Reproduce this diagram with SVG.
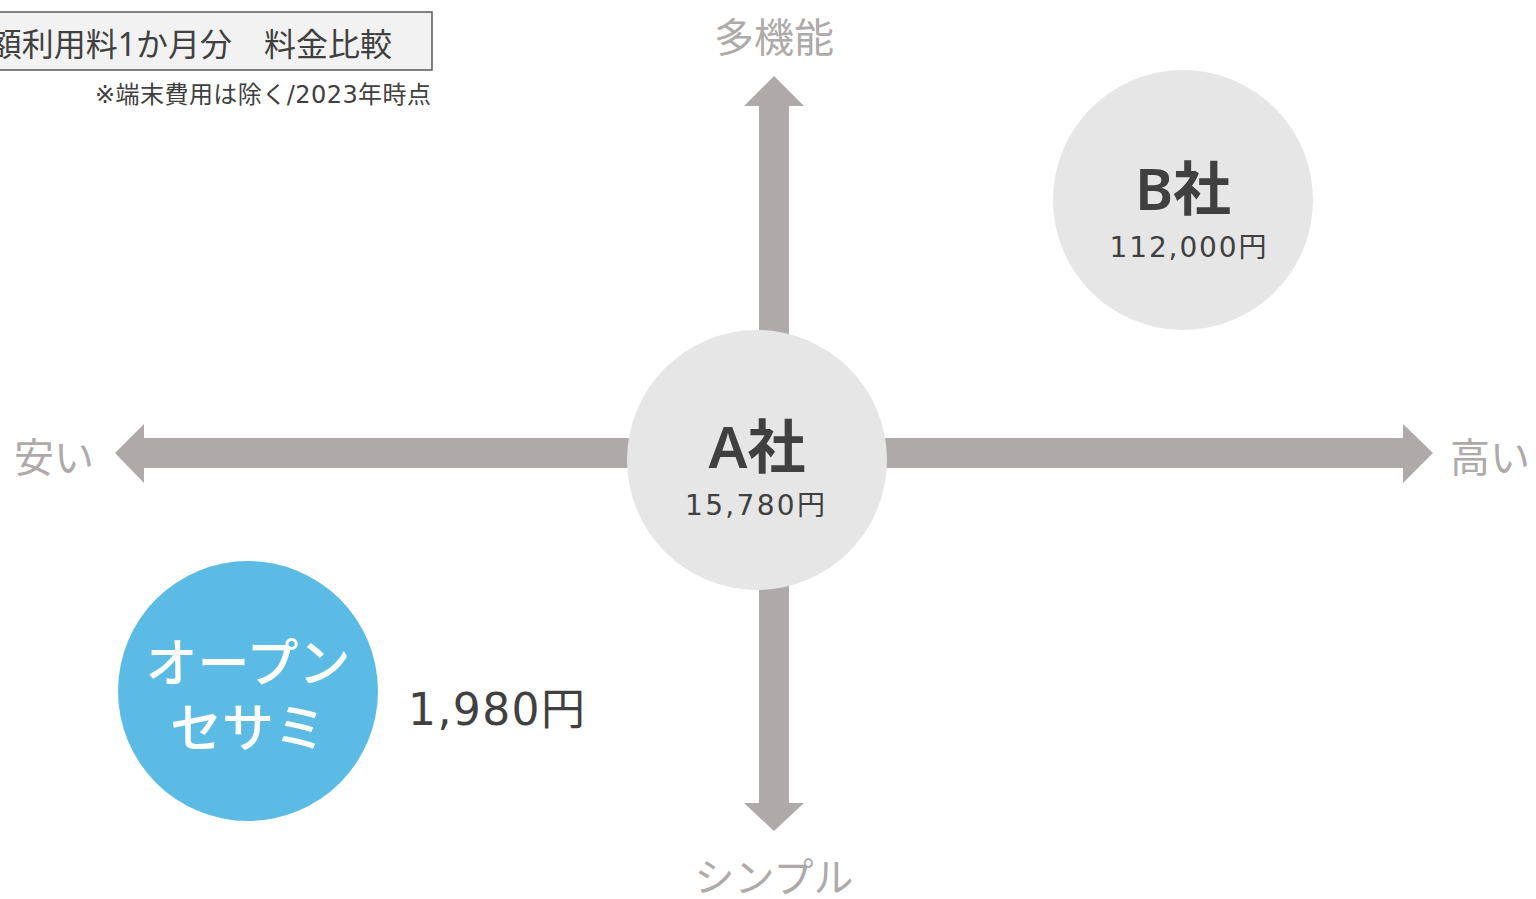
<svg xmlns="http://www.w3.org/2000/svg" width="1536" height="899" viewBox="0 0 1536 899">
<style>
text{font-family:"Noto Sans","Noto Sans CJK JP",sans-serif}
.num{font-family:"DejaVu Sans","Noto Sans CJK JP",sans-serif}
.ax{fill:#aeaaaa;font-size:40px}
.arr{fill:#aeaaaa}
.dark{fill:#404040}
.name{font-size:58px;font-weight:600;text-anchor:middle}
.price{font-size:28px;text-anchor:middle}
</style>
<rect width="1536" height="899" fill="#ffffff"/>
<g id="title">
<rect x="-10" y="12" width="442" height="58" fill="#f2f2f2" stroke="#595959" stroke-width="1.5"/>
<text x="392" y="56" font-size="32" text-anchor="end" fill="#404040">額利用料1か月分　料金比較</text>
<text class="num" x="95" y="103" font-size="24" fill="#404040" textLength="336" lengthAdjust="spacing">※端末費用は除く/2023年時点</text>
</g>
<g id="connectors">
<polygon class="arr" points="774,76 804,106 789,106 789,335 759,335 759,106 744,106"/>
<polygon class="arr" points="774,831 804,803 789,803 789,585 759,585 759,803 744,803"/>
<polygon class="arr" points="115,453 144,424 144,438 632,438 632,468 144,468 144,483"/>
<polygon class="arr" points="1433,453 1403,424 1403,438 882,438 882,468 1403,468 1403,483"/>
</g>
<g id="axis-labels">
<text class="ax" x="774" y="52" text-anchor="middle">多機能</text>
<text class="ax" x="774" y="892" text-anchor="middle">シンプル</text>
<text class="ax" x="14" y="472">安い</text>
<text class="ax" x="1450" y="472">高い</text>
</g>
<g id="node-a">
<circle cx="757" cy="460" r="130" fill="#e6e6e6"/>
<text class="dark name" x="757" y="468">A社</text>
<text class="dark price num" x="755" y="515" textLength="140" lengthAdjust="spacing">15,780円</text>
</g>
<g id="node-b">
<circle cx="1183" cy="200" r="130" fill="#e6e6e6"/>
<text class="dark name" x="1183" y="210">B社</text>
<text class="dark price num" x="1188" y="257" textLength="157" lengthAdjust="spacing">112,000円</text>
</g>
<g id="node-open">
<circle cx="248" cy="691" r="130" fill="#5bbbe4"/>
<text x="248" y="682" font-size="52" font-weight="500" fill="#ffffff" text-anchor="middle">オープン</text>
<text x="248" y="747" font-size="52" font-weight="500" fill="#ffffff" text-anchor="middle">セサミ</text>
<text class="dark num" x="408" y="725" font-size="44" textLength="177" lengthAdjust="spacing">1,980円</text>
</g>
</svg>
